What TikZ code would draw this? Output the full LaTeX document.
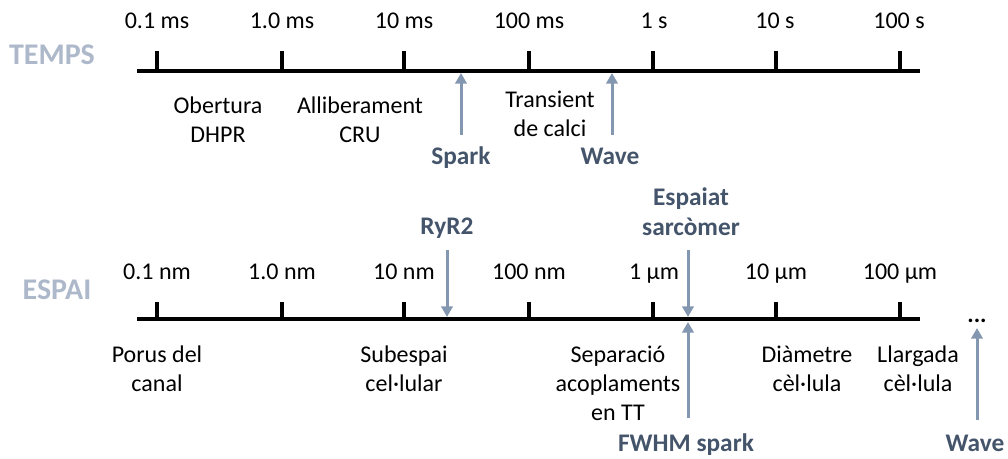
\documentclass[tikz,border=0pt]{standalone}
\usepackage{fontspec}
\setmainfont{Carlito}
\usetikzlibrary{arrows.meta}
\definecolor{lbl}{HTML}{ADB9CA}
\definecolor{dark}{HTML}{44546A}
\definecolor{arr}{HTML}{8497B0}
\begin{document}
\begin{tikzpicture}[x=0.75pt,y=-0.75pt,
  txt/.style={font=\fontsize{18}{22}\selectfont, align=center, anchor=base, inner sep=0pt},
  bl/.style={font=\fontsize{19}{23}\selectfont\bfseries, text=dark, align=center, anchor=base, inner sep=0pt},
  ttl/.style={font=\fontsize{22.5}{27}\selectfont\bfseries, text=lbl, anchor=base, inner sep=0pt},
  axisline/.style={line width=3pt},
  tickline/.style={line width=2.5pt},
  ar/.style={draw=arr, line width=2.25pt, -{Triangle[length=8pt,width=8.5pt]}}]
\useasboundingbox (0,0) rectangle (1008,459);
% ---------- TEMPS ----------
\node[ttl] (temps) at (52,65) {TEMPS};
\coordinate (ta) at (137,71);
\coordinate (tb) at (920,71);
\draw[axisline] (ta) -- (tb);
\foreach \x [count=\i] in {157,282,404,529,653,776,900}{
  \coordinate (tt\i) at (\x,71);
  \coordinate (ttop\i) at (\x,51);
  \draw[tickline] (ttop\i) -- (tt\i);
}
\node[txt] (tl1) at (157,29) {0.1 ms};
\node[txt] (tl2) at (282,29) {1.0 ms};
\node[txt] (tl3) at (404,29) {10 ms};
\node[txt] (tl4) at (529,29) {100 ms};
\node[txt] (tl5) at (654,29) {1 s};
\node[txt] (tl6) at (775,29) {10 s};
\node[txt] (tl7) at (899,29) {100 s};
\node[txt] (obert) at (218,143) {Obertura\\DHPR};
\node[txt] (allib) at (360,143) {Alliberament\\CRU};
\node[txt] (trans) at (550,137) {Transient\\de calci};
\node[bl] (spark) at (461,165) {Spark};
\node[bl] (wave1) at (610,165) {Wave};
\coordinate (sparkT) at (461,135);
\coordinate (sparkH) at (461,73);
\coordinate (waveT) at (612,135);
\coordinate (waveH) at (612,73);
\draw[ar] (sparkT) -- (sparkH);
\draw[ar] (waveT) -- (waveH);
% ---------- ESPAI ----------
\node[ttl] (espai) at (57,300) {ESPAI};
\coordinate (sa) at (137,319);
\coordinate (sb) at (920,319);
\draw[axisline] (sa) -- (sb);
\foreach \x [count=\i] in {157,282,404,529,653,776,900}{
  \coordinate (st\i) at (\x,319);
  \coordinate (stop\i) at (\x,302);
  \draw[tickline] (stop\i) -- (st\i);
}
\node[txt] (sl1) at (157,280) {0.1 nm};
\node[txt] (sl2) at (282,280) {1.0 nm};
\node[txt] (sl3) at (404,280) {10 nm};
\node[txt] (sl4) at (529,280) {100 nm};
\node[txt] (sl5) at (654,280) {1 µm};
\node[txt] (sl6) at (776,280) {10 µm};
\node[txt] (sl7) at (900,280) {100 µm};
\node[txt] (porus) at (157,392) {Porus del\\canal};
\node[txt] (subesp) at (404,392) {Subespai\\cel·lular};
\node[txt] (separ) at (618,421) {Separació\\acoplaments\\en TT};
\node[txt] (diam) at (807,392) {Diàmetre\\cèl·lula};
\node[txt] (llarg) at (918,392) {Llargada\\cèl·lula};
\node[bl] (ryr) at (447,235) {RyR2};
\node[bl] (esp) at (691,236) {Espaiat\\sarcòmer};
\node[bl] (fwhm) at (686,452) {FWHM spark};
\node[bl] (wave2) at (975,452) {Wave};
\node[txt, font=\fontsize{18}{22}\selectfont\bfseries] (dots) at (977,323) {...};
\coordinate (ryrT) at (447,250);
\coordinate (ryrH) at (447,317);
\coordinate (espT) at (688,250);
\coordinate (espH) at (688,317);
\coordinate (fwT) at (688,418);
\coordinate (fwH) at (688,322);
\coordinate (w2T) at (977,420);
\coordinate (w2H) at (977,328);
\draw[ar] (ryrT) -- (ryrH);
\draw[ar] (espT) -- (espH);
\draw[ar] (fwT) -- (fwH);
\draw[ar] (w2T) -- (w2H);
\end{tikzpicture}
\end{document}
